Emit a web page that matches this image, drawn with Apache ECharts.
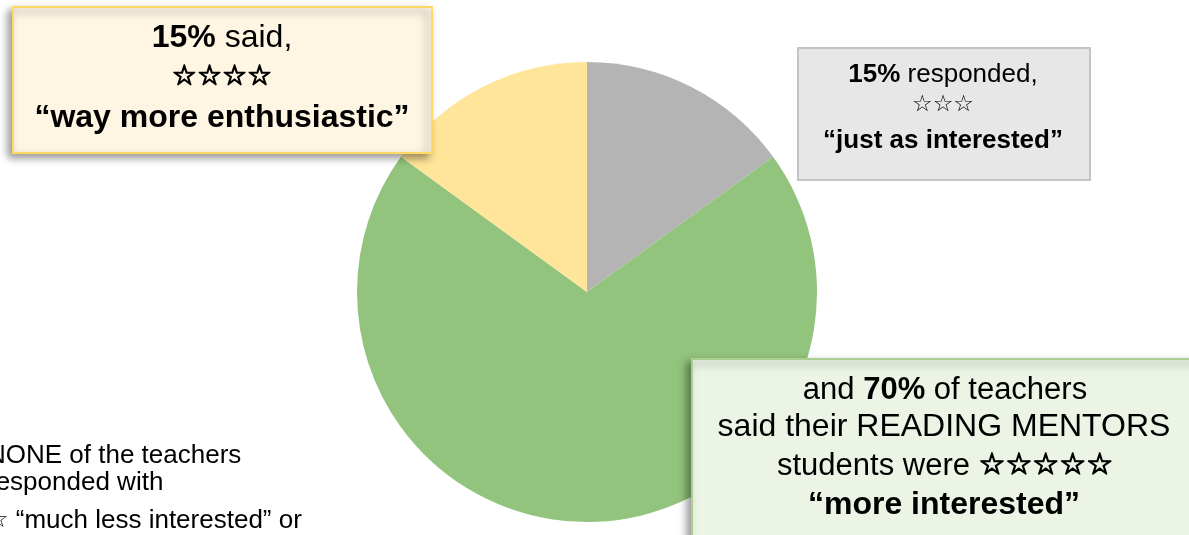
<!DOCTYPE html>
<html>
<head>
<meta charset="utf-8">
<script src="https://cdn.jsdelivr.net/npm/echarts@6/dist/echarts.min.js"></script>
<style>
  html, body { margin: 0; padding: 0; background: #fff; }
  #chart { width: 1189px; height: 535px; }
</style>
</head>
<body>
<div id="chart"></div>
<script>
// answers, clockwise from 12 o'clock
const categories = ['just as interested', 'more interested', 'way more enthusiastic'];
const shares = [15, 70, 15];
const starCounts = [3, 5, 4];
const sliceColors = ['#b4b4b4', '#93c47d', '#ffe599'];

const FONT = '"Liberation Sans", Arial, sans-serif';
const STAR_FONT = '"DejaVu Sans", sans-serif';
const stars = (n) => '☆'.repeat(n);

function richFor(size, starSize, starStroke) {
  const s = { fontFamily: STAR_FONT, fontSize: starSize || size, fill: '#000' };
  if (starStroke) {
    // thicker outline, like the symbol font in the original slide
    s.stroke = '#000';
    s.lineWidth = starStroke;
  }
  return {
    b: { fontFamily: FONT, fontSize: size, fontWeight: 'bold', fill: '#000' },
    s: s,
  };
}

function line(x, y, text, size, opts) {
  opts = opts || {};
  return {
    type: 'text',
    x: x,
    y: y,
    z: 20,
    style: {
      text: text,
      align: opts.align || 'center',
      verticalAlign: 'middle',
      fontFamily: FONT,
      fontSize: size,
      fill: '#000',
      rich: richFor(size, opts.starSize, opts.starStroke),
    },
  };
}

function box(x, y, w, h, fill, stroke, shadow) {
  return {
    type: 'rect',
    z: 10,
    shape: { x: x, y: y, width: w, height: h },
    style: Object.assign(
      { fill: fill, stroke: stroke, lineWidth: 2 },
      shadow
        ? { shadowBlur: 8, shadowOffsetX: -4, shadowOffsetY: 4, shadowColor: 'rgba(0,0,0,0.4)' }
        : {},
    ),
  };
}

const chart = echarts.init(document.getElementById('chart'), null, { renderer: 'canvas' });

chart.setOption({
  animation: false,
  series: [
    {
      type: 'pie',
      center: [587, 292],
      radius: 230,
      startAngle: 90,
      clockwise: true,
      silent: true,
      label: { show: false },
      labelLine: { show: false },
      itemStyle: { borderWidth: 0 },
      data: categories.map((name, i) => ({
        name: name,
        value: shares[i],
        itemStyle: { color: sliceColors[i] },
      })),
    },
  ],
  graphic: [
    // way more enthusiastic
    box(13, 7, 419, 146, '#fff5e3', '#ffd966', true),
    line(222, 38, '{b|' + shares[2] + '%} said,', 32),
    line(222, 78, '{s|' + stars(starCounts[2]) + '}', 32, { starSize: 28, starStroke: 1.3 }),
    line(222, 118, '{b|“' + categories[2] + '”}', 32),

    // just as interested
    box(798, 48, 292, 132, '#e7e7e7', '#c3c3c3', false),
    line(943, 75, '{b|' + shares[0] + '%} responded,', 26),
    line(943, 105, '{s|' + stars(starCounts[0]) + '}', 26, { starSize: 23 }),
    line(943, 141, '{b|“' + categories[0] + '”}', 26),

    // more interested
    box(692, 359, 520, 200, '#ebf4e5', '#a9d08e', true),
    line(945, 390, 'and {b|' + shares[1] + '%} of teachers', 31),
    line(944, 427, 'said their READING MENTORS', 32),
    line(945, 466, 'students were {s|' + stars(starCounts[1]) + '}', 31, { starSize: 30, starStroke: 1.3 }),
    line(944, 505, '{b|“' + categories[1] + '”}', 32),

    // none
    line(-13, 456, 'NONE of the teachers', 26, { align: 'left' }),
    line(-13, 483, 'responded with', 26, { align: 'left' }),
    line(-13, 521, '{s|☆} “much less interested” or', 26, { align: 'left', starSize: 24 }),
  ],
});
</script>
</body>
</html>
